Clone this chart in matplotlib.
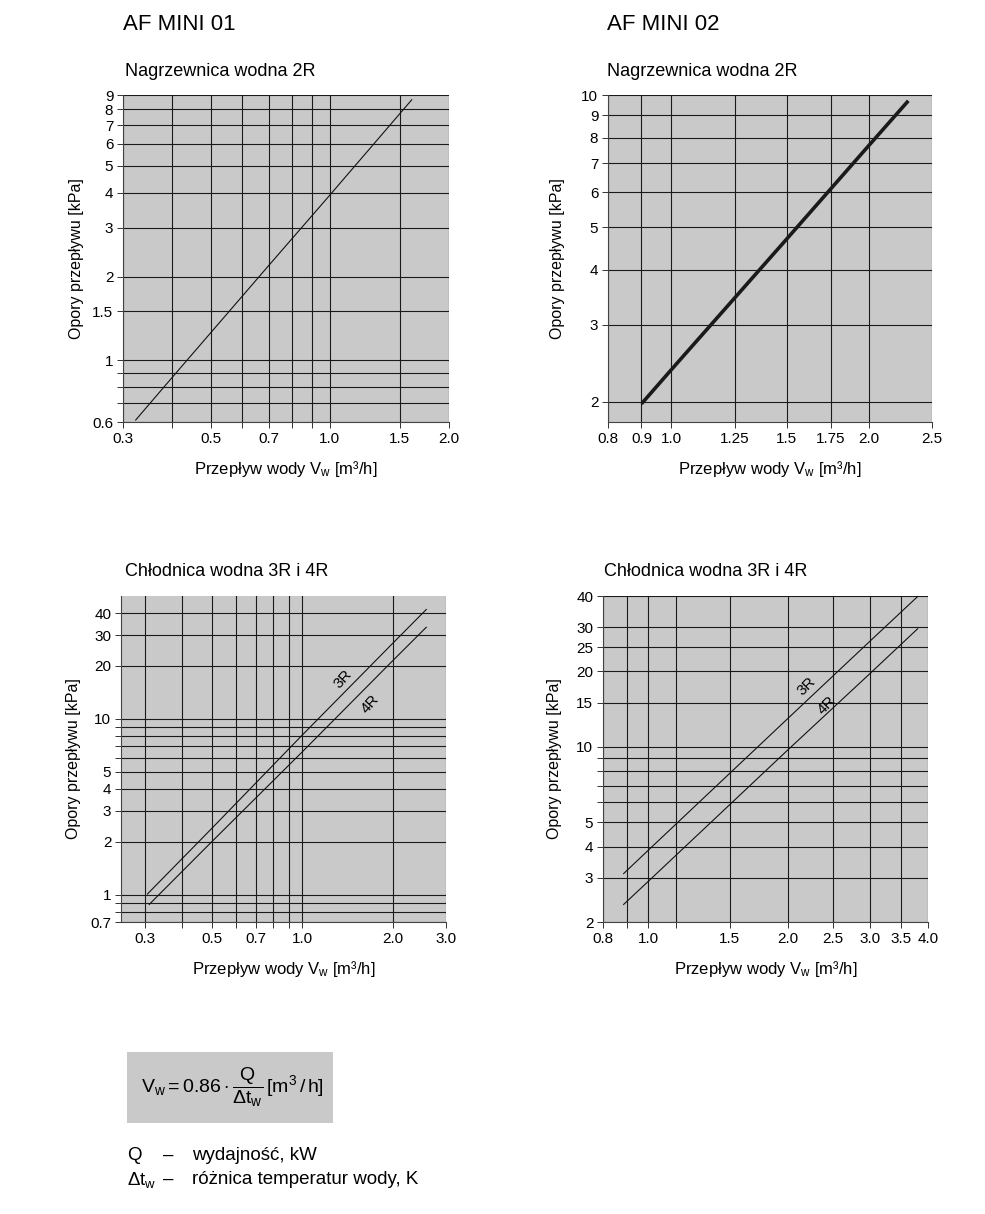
import numpy as np
import matplotlib
matplotlib.use("Agg")
import matplotlib.pyplot as plt
from matplotlib.patches import Rectangle
from matplotlib.ticker import FixedLocator, FixedFormatter, NullLocator

plt.rcParams["font.family"] = ["Liberation Sans", "DejaVu Sans"]
plt.rcParams["mathtext.fontset"] = "custom"
plt.rcParams["mathtext.rm"] = "Liberation Sans"
plt.rcParams["mathtext.it"] = "Liberation Sans:italic"
plt.rcParams["mathtext.bf"] = "Liberation Sans:bold"

W, H = 985, 1214
TLO = "#c9c9c9"

# --- AF MINI 01, nagrzewnica 2R
v1 = [0.323, 0.4, 0.7, 1.0, 1.61]
dp1 = [0.61, 0.87, 2.19, 3.93, 8.65]
x1_siatka = [0.3, 0.4, 0.5, 0.6, 0.7, 0.8, 0.9, 1.0, 1.5, 2.0]
x1_opisy = ["0.3", "", "0.5", "", "0.7", "", "", "1.0", "1.5", "2.0"]
y1_siatka = [0.6, 0.7, 0.8, 0.9, 1, 1.5, 2, 3, 4, 5, 6, 7, 8, 9]
y1_opisy = ["0.6", "", "", "", "1", "1.5", "2", "3", "4", "5", "6", "7", "8", "9"]

# --- AF MINI 02, nagrzewnica 2R
v2 = [0.9, 1.0, 1.5, 2.0, 2.30]
dp2 = [1.98, 2.37, 4.70, 7.66, 9.7]
x2_siatka = [0.8, 0.9, 1.0, 1.25, 1.5, 1.75, 2.0, 2.5]
x2_opisy = ["0.8", "0.9", "1.0", "1.25", "1.5", "1.75", "2.0", "2.5"]
y2_siatka = [2, 3, 4, 5, 6, 7, 8, 9, 10]
y2_opisy = ["2", "3", "4", "5", "6", "7", "8", "9", "10"]

# --- AF MINI 01, chlodnica 3R / 4R
v3_3r = [0.306, 0.5, 1.0, 2.0, 2.58]
dp3_3r = [1.01, 2.38, 8.1, 27.0, 41.9]
v3_4r = [0.31, 0.5, 1.0, 2.0, 2.58]
dp3_4r = [0.88, 2.0, 6.5, 21.5, 33.2]
x3_siatka = [0.3, 0.4, 0.5, 0.6, 0.7, 0.8, 0.9, 1.0, 2.0, 3.0]
x3_opisy = ["0.3", "", "0.5", "", "0.7", "", "", "1.0", "2.0", "3.0"]
y3_siatka = [0.7, 0.8, 0.9, 1, 2, 3, 4, 5, 6, 7, 8, 9, 10, 20, 30, 40]
y3_opisy = ["0.7", "", "", "1", "2", "3", "4", "5", "", "", "", "", "10", "20", "30", "40"]

# --- AF MINI 02, chlodnica 3R / 4R
v4 = [0.886, 1.0, 2.0, 3.0, 3.80]
dp4_3r = [3.12, 3.86, 13.0, 26.4, 39.8]
dp4_4r = [2.35, 2.90, 9.74, 19.6, 29.6]
x4_siatka = [0.8, 0.9, 1.0, 1.15, 1.5, 2.0, 2.5, 3.0, 3.5, 4.0]
x4_opisy = ["0.8", "", "1.0", "", "1.5", "2.0", "2.5", "3.0", "3.5", "4.0"]
y4_siatka = [2, 3, 4, 5, 6, 7, 8, 9, 10, 15, 20, 25, 30, 40]
y4_opisy = ["2", "3", "4", "5", "", "", "", "", "10", "15", "20", "25", "30", "40"]


def osie(fig, l, t, r, b):
    """prostokat w pikselach -> osie"""
    return fig.add_axes([l / W, 1 - b / H, (r - l) / W, (b - t) / H])


def px(x, y):
    return x / W, 1 - y / H


def przygotuj(ax, xlim, ylim, xs, xo, ys, yo, ylx):
    ax.set_xscale("log")
    ax.set_yscale("log")
    ax.set_xlim(*xlim)
    ax.set_ylim(*ylim)
    ax.set_facecolor(TLO)
    ax.xaxis.set_major_locator(FixedLocator(xs))
    ax.xaxis.set_major_formatter(FixedFormatter(xo))
    ax.yaxis.set_major_locator(FixedLocator(ys))
    ax.yaxis.set_major_formatter(FixedFormatter(yo))
    ax.xaxis.set_minor_locator(NullLocator())
    ax.yaxis.set_minor_locator(NullLocator())
    ax.grid(True, which="major", color="#1a1a1a", lw=0.8)
    ax.set_axisbelow(True)
    for s in ("top", "right"):
        ax.spines[s].set_visible(False)
    for s in ("left", "bottom"):
        ax.spines[s].set_color("#444444")
        ax.spines[s].set_linewidth(0.8)
    ax.tick_params(direction="out", length=4, width=0.7, color="#333333",
                   labelsize=11, pad=3)
    ax.set_ylabel("Opory przepływu [kPa]", fontsize=11.5)
    ax.set_xlabel(r"Przepływ wody V$_\mathrm{w}$ [m³/h]", fontsize=12)
    ax.yaxis.set_label_coords(ylx, 0.5)
    ax.xaxis.set_label_coords(0.5, -0.112)


fig = plt.figure(figsize=(W / 100, H / 100), dpi=100)

ax1 = osie(fig, 123, 95, 449, 422)
przygotuj(ax1, (0.3, 2.0), (0.6, 9), x1_siatka, x1_opisy, y1_siatka, y1_opisy, -0.12)
ax1.plot(v1, dp1, color="#111111", lw=0.8)

ax2 = osie(fig, 608, 95, 932, 422)
przygotuj(ax2, (0.8, 2.5), (1.8, 10), x2_siatka, x2_opisy, y2_siatka, y2_opisy, -0.132)
ax2.plot(v2, dp2, color="#1a1a1a", lw=2.6, solid_capstyle="butt")

ax3 = osie(fig, 121, 596, 446, 922)
przygotuj(ax3, (0.25, 3.0), (0.7, 50), x3_siatka, x3_opisy, y3_siatka, y3_opisy, -0.122)
ax3.plot(v3_3r, dp3_3r, color="#111111", lw=0.8)
ax3.plot(v3_4r, dp3_4r, color="#111111", lw=0.8)
ax3.text(1.366, 16.8, "3R", rotation=48, fontsize=11, ha="center", va="center")
ax3.text(1.674, 12.1, "4R", rotation=48, fontsize=11, ha="center", va="center")

ax4 = osie(fig, 603, 596, 928, 922)
przygotuj(ax4, (0.8, 4.0), (2, 40), x4_siatka, x4_opisy, y4_siatka, y4_opisy, -0.127)
ax4.plot(v4, dp4_3r, color="#111111", lw=0.8)
ax4.plot(v4, dp4_4r, color="#111111", lw=0.8)
ax4.text(2.19, 17.5, "3R", rotation=45, fontsize=11, ha="center", va="center")
ax4.text(2.42, 14.7, "4R", rotation=45, fontsize=11, ha="center", va="center")

# tytuly
fig.text(*px(123, 25), "AF MINI 01", fontsize=16, va="center", ha="left")
fig.text(*px(607, 25), "AF MINI 02", fontsize=16, va="center", ha="left")
fig.text(*px(125, 72), "Nagrzewnica wodna 2R", fontsize=13, va="center")
fig.text(*px(607, 72), "Nagrzewnica wodna 2R", fontsize=13, va="center")
fig.text(*px(125, 572), "Chłodnica wodna 3R i 4R", fontsize=13, va="center")
fig.text(*px(604, 572), "Chłodnica wodna 3R i 4R", fontsize=13, va="center")

# wzor w szarej ramce
x0, y0 = px(127, 1123)
fig.patches.append(Rectangle((x0, y0), (333 - 127) / W, (1123 - 1052) / H,
                             transform=fig.transFigure, facecolor=TLO,
                             edgecolor="none", zorder=0))
fig.text(*px(232, 1087),
         r"$\mathrm{V_w} = 0.86\cdot\dfrac{\mathrm{Q}}{\Delta\mathrm{t_w}}\,[\mathrm{m^3\,/\,h}]$",
         fontsize=14, ha="center", va="center")

# legenda symboli
fig.text(*px(127, 1155), "Q", fontsize=13.5, va="center")
fig.text(*px(163, 1155), "–", fontsize=13.5, va="center")
fig.text(*px(192, 1155), "wydajność, kW", fontsize=13.5, va="center")
fig.text(*px(127, 1180), r"$\Delta\mathrm{t_w}$", fontsize=13.5, va="center")
fig.text(*px(163, 1179), "–", fontsize=13.5, va="center")
fig.text(*px(192, 1179), "różnica temperatur wody, K", fontsize=13.5, va="center")

fig.savefig("out.png", dpi=100)
